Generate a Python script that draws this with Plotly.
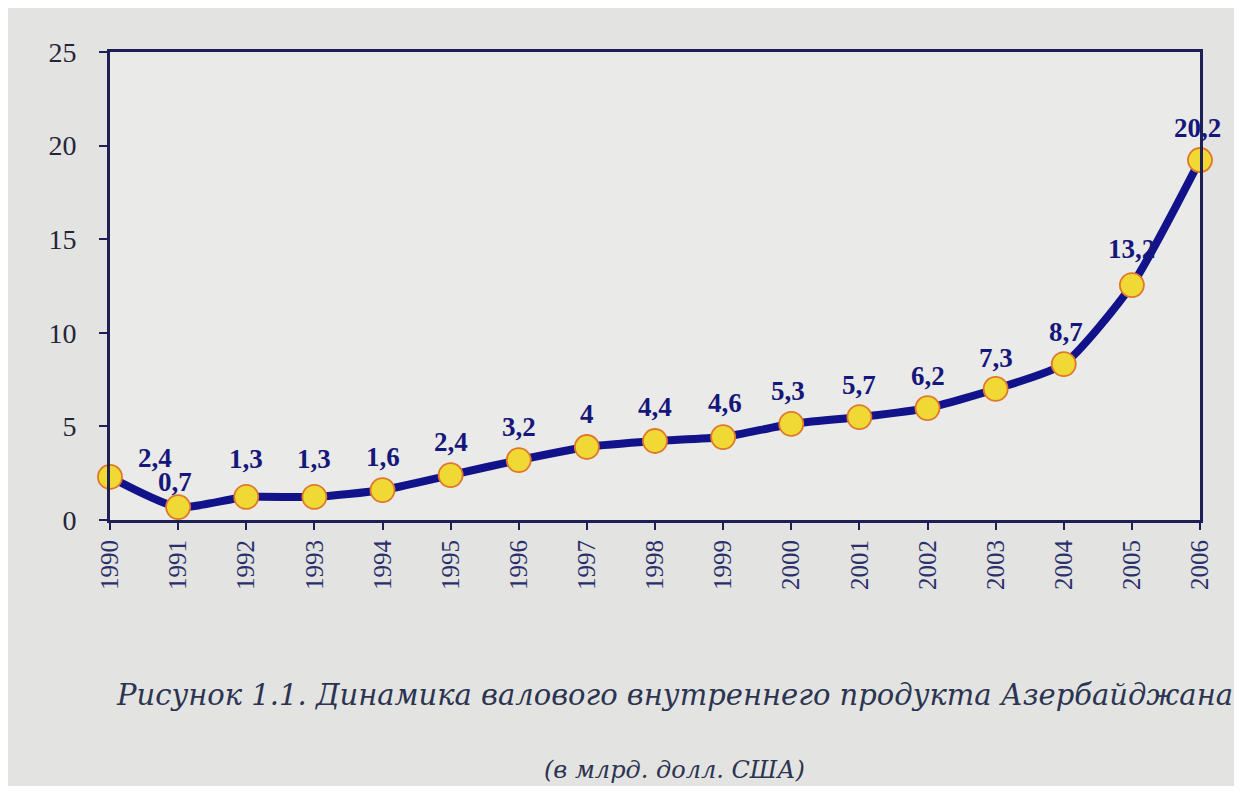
import plotly.graph_objects as go

years = list(range(1990, 2007))
# values as plotted (read from point positions)
gdp_plotted = [2.3, 0.69, 1.23, 1.23, 1.6, 2.4, 3.2, 3.9, 4.22, 4.43, 5.13, 5.5, 5.98, 7.0, 8.33, 12.55, 19.23]
# data labels as printed
gdp_labels = ["2,4", "0,7", "1,3", "1,3", "1,6", "2,4", "3,2", "4", "4,4", "4,6",
              "5,3", "5,7", "6,2", "7,3", "8,7", "13,2", "20,2"]
y_ticks = [0, 5, 10, 15, 20, 25]

caption1 = "Рисунок 1.1. Динамика валового внутреннего продукта Азербайджана"
caption2 = "(в млрд. долл. США)"

# label offsets in pixels (layout only)
label_xshift = [45, -3, 0, 0, 0, 0, 0, 0, 0, 2, -3, 0, 0, 0, 2, 0, -3]
label_yshift = [19, 25, 38, 38, 33, 33, 33, 33, 34, 34, 33, 32, 32, 31, 32, 36, 32]

navy = "#12138a"
axis_col = "#1d1f55"

fig = go.Figure()
fig.add_trace(go.Scatter(
    x=years, y=gdp_plotted, mode="lines+markers",
    line=dict(color=navy, width=8, shape="spline", smoothing=0.6),
    marker=dict(size=24, color="#f0d935", line=dict(color="#e0782a", width=1.8)),
    cliponaxis=False, hoverinfo="skip", showlegend=False,
))

annotations = []
for yr, v, t, dx, dy in zip(years, gdp_plotted, gdp_labels, label_xshift, label_yshift):
    annotations.append(dict(
        x=yr, y=v, text="<b>" + t + "</b>", showarrow=False,
        xshift=dx, yshift=dy, yanchor="middle", xanchor="center",
        font=dict(family="Liberation Serif", size=27, color="#16177a"),
    ))

annotations.append(dict(
    xref="paper", yref="paper", x=0.518, y=-0.374, text="<i>" + caption1 + "</i>",
    showarrow=False, xanchor="center", yanchor="middle",
    font=dict(family="DejaVu Serif", size=29, color="#2b3450"),
))
annotations.append(dict(
    xref="paper", yref="paper", x=0.518, y=-0.534, text="<i>" + caption2 + "</i>",
    showarrow=False, xanchor="center", yanchor="middle",
    font=dict(family="DejaVu Serif", size=24, color="#2b3450"),
))

fig.update_layout(
    width=1226, height=778,
    margin=dict(l=102, r=34, t=44, b=266),
    paper_bgcolor="#e3e3e1",
    plot_bgcolor="#eaeae8",
    annotations=annotations,
    xaxis=dict(
        range=[1990, 2006], tickmode="array", tickvals=years,
        ticktext=[str(y) for y in years], tickangle=-90,
        ticks="outside", ticklen=7, tickwidth=2, tickcolor=axis_col,
        showline=True, linecolor=axis_col, linewidth=3, mirror=True,
        showgrid=False, zeroline=False,
        tickfont=dict(family="Liberation Serif", size=25, color="#2a2f6a"),
    ),
    yaxis=dict(
        range=[0, 25], tickmode="array", tickvals=y_ticks,
        ticks="outside", ticklen=8, tickwidth=2, tickcolor=axis_col,
        showline=True, linecolor=axis_col, linewidth=3, mirror=True,
        showgrid=False, zeroline=False, ticklabelstandoff=17,
        tickfont=dict(family="Liberation Serif", size=28, color="#25253a"),
    ),
)

fig.write_html("out.html")
